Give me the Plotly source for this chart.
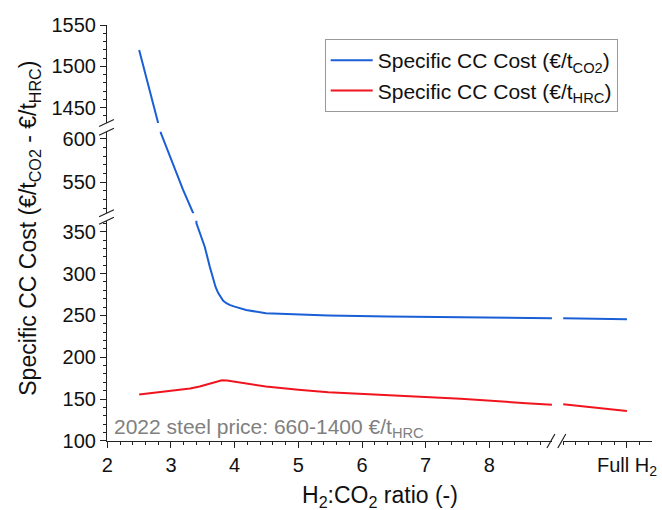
import plotly.graph_objects as go

# ---- data ----
ratio_blue = [2.5, 2.8, 2.84, 3.04, 3.19, 3.35, 3.4, 3.434, 3.53, 3.61, 3.66, 3.70, 3.74, 3.78, 3.82, 3.87, 3.92, 4.0, 4.18, 4.49, 5.0, 5.47, 6.41, 7.55, 8.58, 9.0]
cost_co2 = [1520, 1431, 607, 568, 541, 514, 360, 352, 332, 308, 293, 284, 277, 271.5, 267.5, 264.5, 262.5, 260.5, 256.5, 252.5, 251, 250, 248.6, 247.9, 246.7, 246.7]

ratio_red = [2.5, 2.98, 3.3, 3.45, 3.6, 3.72, 3.8, 3.88, 3.97, 4.49, 5.0, 5.47, 6.51, 7.55, 8.58, 9.0]
cost_hrc = [155.3, 159.3, 162.5, 164.9, 168, 171.3, 172.5, 172.2, 171, 164.9, 161, 158.2, 154.1, 150.2, 145, 143]

# segment after the x-axis break, ending at "Full H2"
ratio_full = [9.0, 10.0]
cost_co2_full = [246.7, 245.5]
cost_hrc_full = [143.8, 135.8]

x_ticks = [2, 3, 4, 5, 6, 7, 8]
full_tick = [10]
full_label = ["Full H<sub>2</sub>"]

BLUE = "#1a5fd6"
RED = "#f0141e"
FONT = "Arial, Liberation Sans, sans-serif"

W, H = 662, 510
L, R, T, B = 107, 5, 25, 69
PW, PH = W - L - R, H - T - B

def fx(px):
    return (px - L) / PW

def fy(py):
    return (H - B - py) / PH

fig = go.Figure()

leg1 = "Specific CC Cost (€/t<sub>CO2</sub>)"
leg2 = "Specific CC Cost (€/t<sub>HRC</sub>)"

for i, ya in enumerate(["y3", "y2", "y"]):
    fig.add_trace(go.Scatter(x=ratio_blue, y=cost_co2, mode="lines", xaxis="x", yaxis=ya,
                             line=dict(color=BLUE, width=2), name=leg1,
                             showlegend=(i == 0), legendgroup="b"))
fig.add_trace(go.Scatter(x=ratio_full, y=cost_co2_full, mode="lines", xaxis="x2", yaxis="y",
                         line=dict(color=BLUE, width=2), name=leg1, showlegend=False, legendgroup="b"))
fig.add_trace(go.Scatter(x=ratio_red, y=cost_hrc, mode="lines", xaxis="x", yaxis="y",
                         line=dict(color=RED, width=2), name=leg2, legendgroup="r"))
fig.add_trace(go.Scatter(x=ratio_full, y=cost_hrc_full, mode="lines", xaxis="x2", yaxis="y",
                         line=dict(color=RED, width=2), name=leg2, showlegend=False, legendgroup="r"))

axis_common = dict(showline=True, linecolor="#222", linewidth=1.2, ticks="outside", ticklen=6,
                   tickwidth=1.2, tickcolor="#222", showgrid=False, zeroline=False,
                   tickfont=dict(family=FONT, size=20, color="#111"))
minor_y = dict(ticks="outside", ticklen=3, tickwidth=1, tickcolor="#222", dtick=10, tick0=0, showgrid=False)
minor_x = dict(ticks="outside", ticklen=3, tickwidth=1, tickcolor="#222", dtick=0.2, tick0=0, showgrid=False)

x_break_px = 556
x2_start_px = 567
full_px = 631.7
unit_px = 64.3

fig.update_layout(
    width=W, height=H,
    margin=dict(l=L, r=R, t=T, b=B),
    paper_bgcolor="white", plot_bgcolor="white",
    showlegend=True,
    legend=dict(x=fx(326.7), y=fy(39), xanchor="left", yanchor="top",
                bordercolor="#999", borderwidth=1, bgcolor="white", itemwidth=42,
                font=dict(family=FONT, size=21, color="#111"), tracegroupgap=0),
    xaxis=dict(axis_common, domain=[0, fx(x_break_px)], range=[1.995, 2 + (x_break_px - L) / unit_px],
               tickmode="array", tickvals=x_ticks, anchor="y", minor=minor_x),
    xaxis2=dict(axis_common, domain=[fx(x2_start_px), 1],
                range=[10 - (full_px - x2_start_px) / unit_px, 10 + (W - R - full_px) / unit_px],
                tickmode="array", tickvals=full_tick, ticktext=full_label, anchor="y", minor=minor_x),
    yaxis=dict(axis_common, domain=[0, fy(220.7)], range=[99.8, 363.2], dtick=50, tick0=0,
               anchor="x", minor=minor_y),
    yaxis2=dict(axis_common, domain=[fy(213.3), fy(131.7)], range=[514, 608.4], dtick=50, tick0=0,
                anchor="x", minor=minor_y),
    yaxis3=dict(axis_common, domain=[fy(123), 1], range=[1431.5, 1550.3], dtick=50, tick0=0,
                anchor="x", minor=minor_y),
)

# break marks
shapes = []
for (py_top, py_bot) in [(123, 131.7), (213.3, 220.7)]:
    for py in (py_top, py_bot):
        shapes.append(dict(type="line", xref="paper", yref="paper",
                           x0=fx(L - 8), y0=fy(py + 3.5), x1=fx(L + 7), y1=fy(py - 3.5),
                           line=dict(color="#222", width=1.2)))
for px in (x_break_px - 1, x2_start_px - 1):
    shapes.append(dict(type="line", xref="paper", yref="paper",
                       x0=fx(px - 4), y0=fy(H - B + 7), x1=fx(px + 4), y1=fy(H - B - 7),
                       line=dict(color="#222", width=1.2)))
fig.update_layout(shapes=shapes)

fig.add_annotation(text="Specific CC Cost (€/t<sub>CO2</sub> - €/t<sub>HRC</sub>)",
                   xref="paper", yref="paper", x=fx(28), y=fy(228), textangle=-90,
                   showarrow=False, xanchor="center", yanchor="middle",
                   font=dict(family=FONT, size=23, color="#111"))
fig.add_annotation(text="H<sub>2</sub>:CO<sub>2</sub> ratio (-)",
                   xref="paper", yref="paper", x=fx(383), y=fy(496),
                   showarrow=False, xanchor="center", yanchor="middle",
                   font=dict(family=FONT, size=23, color="#111"))
fig.add_annotation(text="2022 steel price: 660-1400 €/t<sub>HRC</sub>",
                   xref="paper", yref="paper", x=fx(112), y=fy(428),
                   showarrow=False, xanchor="left", yanchor="middle",
                   font=dict(family=FONT, size=21, color="#808080"))

fig.write_html("out.html")
